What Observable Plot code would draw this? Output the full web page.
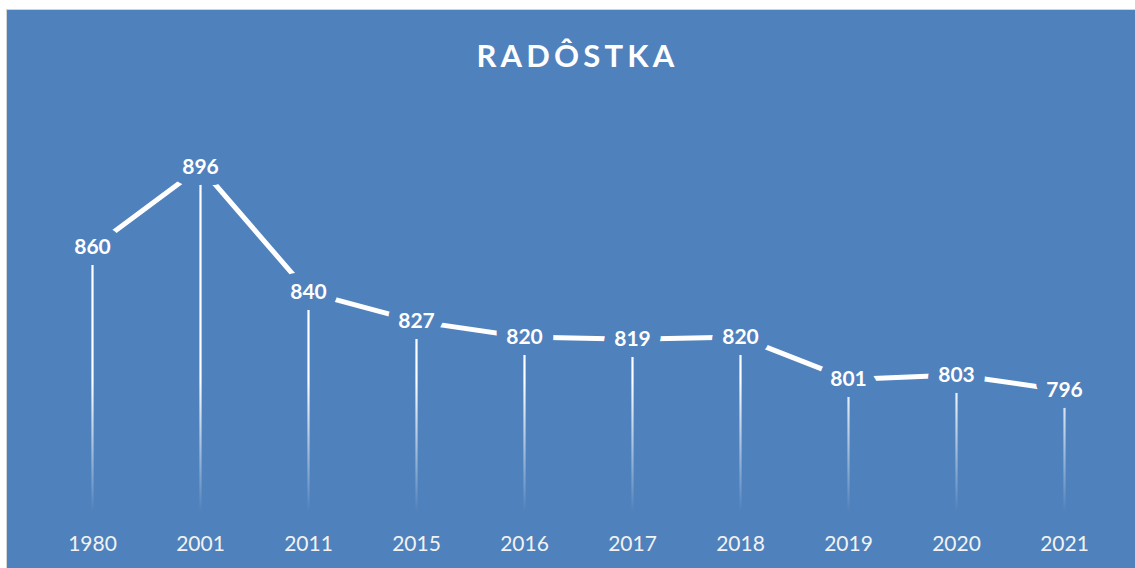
<!DOCTYPE html>
<html>
<head>
<meta charset="utf-8">
<script src="https://cdn.jsdelivr.net/npm/d3@7"></script>
<script src="https://cdn.jsdelivr.net/npm/@observablehq/plot@0.6"></script>
<style>
  html, body { margin: 0; padding: 0; background: #ffffff; }
  #wrap { position: relative; width: 1135px; height: 568px; overflow: hidden; background: #ffffff; }
  #panel { position: absolute; left: 6px; top: 9px; width: 1129px; height: 559px; box-sizing: border-box;
           background: #4F81BD; border-left: 1px solid #d4d4d4; border-top: 1px solid #d4d4d4; }
  #title { position: absolute; left: 0; width: 1155px; top: 37px; text-align: center; color: #ffffff;
           font-family: Lato, "Open Sans", sans-serif; font-weight: 700; font-size: 31px; line-height: 36px;
           letter-spacing: 4.2px; }
  #chart { position: absolute; left: 0; top: 0; }
</style>
</head>
<body>
<div id="wrap">
  <div id="panel"></div>
  <div id="title">RADÔSTKA</div>
  <div id="chart"></div>
</div>
<script>
const years = ["1980", "2001", "2011", "2015", "2016", "2017", "2018", "2019", "2020", "2021"];
const population = [860, 896, 840, 827, 820, 819, 820, 801, 803, 796];
const yDomain = [740, 900];

const data = years.map((year, i) => ({year, value: population[i]}));
const blue = "#4F81BD";

const defs = () => {
  const d = d3.create("svg:defs");
  const g = d.append("linearGradient")
    .attr("id", "dropfade")
    .attr("gradientUnits", "userSpaceOnUse")
    .attr("x1", 0).attr("x2", 0)
    .attr("y1", 380).attr("y2", 512);
  g.append("stop").attr("offset", "0%").attr("stop-color", "#ffffff").attr("stop-opacity", 1);
  g.append("stop").attr("offset", "100%").attr("stop-color", "#ffffff").attr("stop-opacity", 0);
  return d.node();
};

const chart = Plot.plot({
  width: 1135,
  height: 568,
  marginLeft: 35,
  marginRight: 15,
  marginTop: 158,
  marginBottom: 53,
  style: {background: "transparent", fontFamily: "Lato, 'Open Sans', sans-serif"},
  x: {type: "point", domain: years, padding: 0.5, label: null},
  y: {domain: yDomain, axis: null},
  marks: [
    defs,
    Plot.ruleX(data, {x: "year", y1: yDomain[0], y2: "value", stroke: "url(#dropfade)", strokeWidth: 2.2}),
    Plot.line(data, {x: "year", y: "value", stroke: "#ffffff", strokeWidth: 5, strokeLinejoin: "miter"}),
    Plot.text(data, {x: "year", y: "value", text: d => String(d.value), fill: "#ffffff",
      stroke: blue, strokeWidth: 22, strokeLinejoin: "round", fontSize: 21, fontWeight: "bold"}),
    Plot.axisX({tickSize: 0, tickPadding: 21, fontSize: 21, fill: "#f2f2f2", label: null})
  ]
});
document.getElementById("chart").appendChild(chart);
</script>
</body>
</html>
